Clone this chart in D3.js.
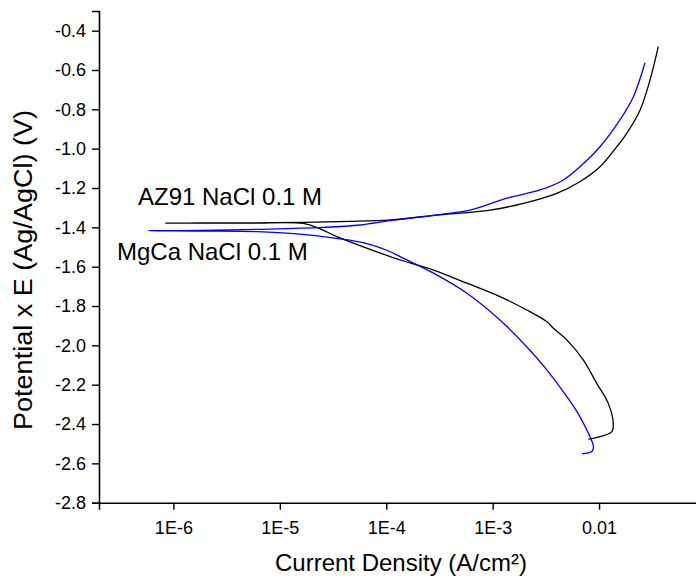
<!DOCTYPE html>
<html>
<head>
<meta charset="utf-8">
<script src="https://cdn.jsdelivr.net/npm/d3@7"></script>
<style>
  html, body { margin: 0; padding: 0; background: #fff; }
  svg { display: block; }
  text { font-family: "Liberation Sans", Arial, sans-serif; fill: #000; }
</style>
</head>
<body>
<svg id="chart" width="696" height="579"></svg>
<script>
// ---- data (current density A/cm², potential V) ----
const az91Current = [7.94e-3, 1.02e-2, 1.32e-2, 1.36e-2, 1.22e-2, 9.5e-3, 7.1e-3, 4.98e-3, 3.72e-3, 3.23e-3,
  2.09e-3, 1.17e-3, 5.73e-4, 2.78e-4, 1.35e-4, 1.09e-4, 3.44e-5, 2.4e-5, 1.66e-5, 5.3e-6, 1.8e-6, 8.4e-7,
  1.8e-6, 5.3e-6, 1.66e-5, 4.6e-5, 1.09e-4, 3.2e-4, 9.5e-4, 1.95e-3, 4.0e-3, 6.6e-3, 1.02e-2, 1.47e-2,
  1.82e-2, 2.43e-2, 3.01e-2, 3.6e-2];
const az91Potential = [-2.477, -2.464, -2.439, -2.396, -2.295, -2.193, -2.074, -1.972, -1.913, -1.880,
  -1.820, -1.752, -1.684, -1.617, -1.566, -1.549, -1.447, -1.408, -1.380, -1.379, -1.379, -1.379,
  -1.378, -1.377, -1.375, -1.370, -1.362, -1.337, -1.312, -1.278, -1.227, -1.168, -1.092, -0.990,
  -0.922, -0.803, -0.651, -0.481];

const mgcaCurrent = [6.9e-3, 8.55e-3, 8.86e-3, 8.2e-3, 6.6e-3, 4.98e-3, 3.23e-3, 2.09e-3, 1.17e-3, 5.73e-4,
  2.78e-4, 1.35e-4, 1.09e-4, 6.1e-5, 2.56e-5, 1.26e-5, 6.1e-6, 1.8e-6, 5.9e-7,
  1.8e-6, 6.1e-6, 2.56e-5, 5.7e-5, 1.09e-4, 2.08e-4, 4.0e-4, 6.15e-4, 1.36e-3, 2.79e-3, 4.62e-3,
  6.6e-3, 1.02e-2, 1.57e-2, 2.1e-2, 2.7e-2];
const mgcaPotential = [-2.552, -2.540, -2.515, -2.464, -2.362, -2.261, -2.125, -2.007, -1.871, -1.735,
  -1.633, -1.549, -1.524, -1.478, -1.447, -1.431, -1.422, -1.419, -1.417,
  -1.416, -1.410, -1.400, -1.388, -1.366, -1.347, -1.328, -1.312, -1.252, -1.210, -1.159,
  -1.092, -0.990, -0.854, -0.736, -0.563];

const seriesNames = ["AZ91 NaCl 0.1 M", "MgCa NaCl 0.1 M"];
const seriesColors = ["#000000", "#0000ff"];

const xMajorTicks = [1e-6, 1e-5, 1e-4, 1e-3, 1e-2];
const xMajorLabels = ["1E-6", "1E-5", "1E-4", "1E-3", "0.01"];
const yMajorTicks = [-2.8, -2.6, -2.4, -2.2, -2.0, -1.8, -1.6, -1.4, -1.2, -1.0, -0.8, -0.6, -0.4];
const yMinorTicks = [-2.7, -2.5, -2.3, -2.1, -1.9, -1.7, -1.5, -1.3, -1.1, -0.9, -0.7, -0.5, -0.3];

const xTitle = "Current Density (A/cm²)";
const yTitle = "Potential x E (Ag/AgCl) (V)";

// ---- layout ----
const svg = d3.select("#chart");
const x = d3.scaleLog().domain([2e-7, 0.1]).range([99, 705.5]);
const y = d3.scaleLinear().domain([-2.8, -0.3]).range([502.7, 11]);
const x0 = x.range()[0], yBottom = y.range()[0];

// minor x ticks
const xMinor = [];
for (let e = -7; e <= -2; e++) {
  for (let m = 2; m <= 9; m++) {
    const v = m * Math.pow(10, e);
    if (v >= 2e-7 && v <= 0.1) xMinor.push(v);
  }
}

const gx = svg.append("g").attr("transform", `translate(0,${yBottom})`);
gx.call(d3.axisBottom(x).tickValues(xMinor).tickSize(4).tickFormat(""));
gx.call(d3.axisBottom(x).tickValues(xMajorTicks).tickSize(7).tickPadding(12)
  .tickFormat((d, i) => xMajorLabels[i]));
gx.selectAll(".domain").attr("stroke", "#000").attr("stroke-width", 1.6);
gx.selectAll(".tick line").attr("stroke", "#000").attr("stroke-width", 1.4);
gx.selectAll("text").style("font-size", "18px").attr("fill", "#000");

const gy = svg.append("g").attr("transform", `translate(${x0},0)`);
gy.call(d3.axisLeft(y).tickValues(yMinorTicks).tickSize(4).tickFormat(""));
gy.call(d3.axisLeft(y).tickValues(yMajorTicks).tickSize(7).tickPadding(6)
  .tickFormat(d3.format(".1f")));
gy.selectAll(".domain").attr("stroke", "#000").attr("stroke-width", 1.6);
gy.selectAll(".tick line").attr("stroke", "#000").attr("stroke-width", 1.4);
gy.selectAll("text").style("font-size", "18px").attr("fill", "#000");
gy.selectAll("text").text(function() { return d3.select(this).text().replace("−", "-"); });

// curves
const line = d3.line().x(d => x(d[0])).y(d => y(d[1])).curve(d3.curveCatmullRom.alpha(0.5));
const az = az91Current.map((c, i) => [c, az91Potential[i]]);
const mg = mgcaCurrent.map((c, i) => [c, mgcaPotential[i]]);
svg.append("path").datum(az).attr("d", line).attr("fill", "none")
  .attr("stroke", seriesColors[0]).attr("stroke-width", 1.3);
svg.append("path").datum(mg).attr("d", line).attr("fill", "none")
  .attr("stroke", seriesColors[1]).attr("stroke-width", 1.3);

// labels
svg.append("text").attr("x", 138).attr("y", 205).style("font-size", "24px").text(seriesNames[0]);
svg.append("text").attr("x", 117).attr("y", 260).style("font-size", "24px").text(seriesNames[1]);

// axis titles
svg.append("text").attr("x", 401).attr("y", 571).attr("text-anchor", "middle")
  .style("font-size", "24px").text(xTitle);
svg.append("text").attr("transform", `translate(32,270) rotate(-90)`).attr("text-anchor", "middle")
  .attr("textLength", 320).attr("lengthAdjust", "spacingAndGlyphs")
  .style("font-size", "25px").text(yTitle);
</script>
</body>
</html>
